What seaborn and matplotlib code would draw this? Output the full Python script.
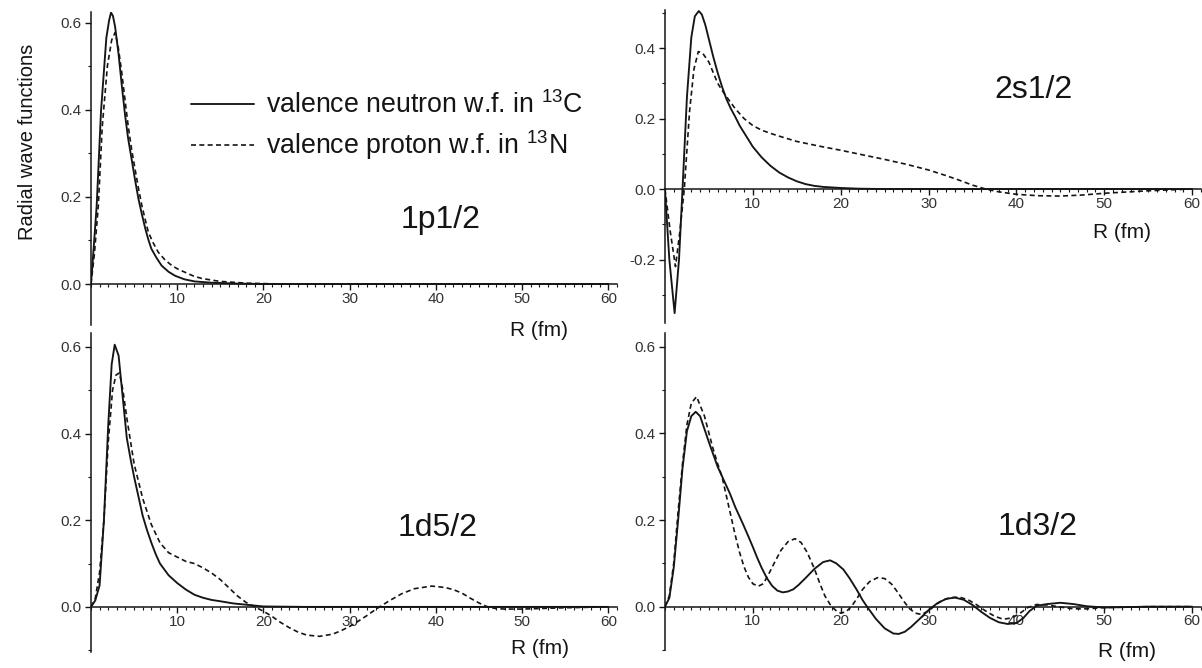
import matplotlib
matplotlib.use("Agg")
import seaborn as sns
import matplotlib.pyplot as plt
from matplotlib.lines import Line2D
from matplotlib.ticker import MultipleLocator, FixedLocator

# ---- data (R in fm, radial wave functions) ----
# 1p1/2
r_1p_n = [0, 0.3, 0.66, 1.16, 1.78, 2.1, 2.32, 2.55, 2.8, 3.2, 3.55, 3.95, 4.3, 4.7, 5.1, 5.5, 5.9, 6.3, 6.65, 7.0,
          7.6, 8.2, 9.0, 9.75, 10.8, 12, 14, 17, 20, 30, 40, 50, 60]
v_1p_n = [0, 0.08, 0.18, 0.396, 0.565, 0.605, 0.623, 0.615, 0.59, 0.527, 0.46, 0.388, 0.335, 0.288, 0.24, 0.196, 0.16, 0.127, 0.102, 0.081,
          0.06, 0.042, 0.028, 0.019, 0.011, 0.006, 0.003, 0.001, 0, 0, 0, 0, 0]
r_1p_p = [0, 0.4, 0.85, 1.3, 1.9, 2.4, 2.8, 3.15, 3.55, 3.9, 4.3, 4.7, 5.1, 5.5, 5.9, 6.3, 6.65, 7.2, 7.8, 8.6, 9.4,
          10.1, 10.9, 11.8, 12.8, 14, 15, 18, 21, 30, 40, 50, 60]
v_1p_p = [0, 0.07, 0.18, 0.36, 0.5, 0.56, 0.577, 0.545, 0.488, 0.43, 0.365, 0.31, 0.265, 0.22, 0.18, 0.147, 0.119, 0.095, 0.073, 0.055, 0.042,
          0.034, 0.027, 0.019, 0.013, 0.009, 0.006, 0.002, 0.0005, 0, 0, 0, 0]

# 2s1/2
r_2s_n = [0, 0.5, 1.1, 1.6, 2.0, 2.5, 3.0, 3.4, 3.85, 4.2, 4.6, 5, 5.5, 6, 6.5, 7, 7.5, 8, 8.5, 9, 9.5, 10, 11, 12, 13, 14,
          15, 16, 17, 18, 20, 22, 25, 30, 40, 50, 60]
v_2s_n = [0, -0.2, -0.352, -0.2, 0, 0.26, 0.43, 0.49, 0.505, 0.495, 0.465, 0.425, 0.375, 0.33, 0.29, 0.255, 0.228, 0.205, 0.18, 0.16, 0.14, 0.12, 0.09, 0.066, 0.047, 0.033,
          0.022, 0.014, 0.009, 0.006, 0.003, 0.001, 0, 0, 0, 0, 0]
r_2s_p = [0, 0.6, 1.2, 1.7, 2.2, 2.8, 3.3, 3.8, 4.3, 5, 5.5, 6, 6.5, 7, 8, 9, 10, 11, 12, 13, 15, 17.5, 20, 22.5, 25,
          27.5, 30, 32, 33.5, 35, 36.5, 38, 40, 42.5, 45, 47.5, 50, 55, 60]
v_2s_p = [0, -0.12, -0.22, -0.12, 0, 0.22, 0.34, 0.39, 0.385, 0.36, 0.33, 0.30, 0.28, 0.262, 0.228, 0.2, 0.18, 0.167, 0.158, 0.15, 0.135, 0.122, 0.11, 0.097, 0.084,
          0.07, 0.054, 0.038, 0.025, 0.011, 0, -0.008, -0.015, -0.019, -0.02, -0.017, -0.012, -0.005, 0]

# 1d5/2
r_5d_n = [0, 0.5, 1, 1.5, 2, 2.4, 2.75, 3.2, 3.6, 4.15, 4.6, 5, 5.5, 6, 6.5, 7, 7.5, 8, 9, 10, 11, 12, 13, 14, 15, 16.5,
          18, 20, 25, 30, 40, 50, 60]
v_5d_n = [0, 0.015, 0.05, 0.2, 0.42, 0.56, 0.605, 0.58, 0.5, 0.39, 0.34, 0.30, 0.255, 0.21, 0.177, 0.148, 0.122, 0.10, 0.073, 0.055, 0.04, 0.028, 0.021, 0.016, 0.013, 0.008,
          0.005, 0.001, 0, 0, 0, 0, 0]
r_5d_p = [0, 0.5, 1, 1.5, 2, 2.5, 2.9, 3.3, 3.7, 4.2, 5, 6, 7, 8, 9, 10, 11, 12, 13, 14, 15, 16, 17, 18, 19, 20,
          21, 22, 23, 24, 25, 26.5, 28, 29, 30, 31, 32, 33, 34.5, 36, 37.5, 39.5, 41, 42, 43, 44, 45, 46, 47, 48, 50, 55, 60]
v_5d_p = [0, 0.02, 0.08, 0.2, 0.38, 0.5, 0.535, 0.54, 0.5, 0.43, 0.33, 0.25, 0.19, 0.148, 0.125, 0.115, 0.105, 0.1, 0.09, 0.078, 0.063, 0.044, 0.025, 0.01, 0.0, -0.01,
          -0.022, -0.036, -0.048, -0.058, -0.065, -0.068, -0.063, -0.055, -0.045, -0.033, -0.02, -0.006, 0.013, 0.03, 0.042, 0.048, 0.045, 0.04, 0.032, 0.02, 0.009, 0, -0.004, -0.005, -0.005, -0.002, 0]

# 1d3/2
r_3d_n = [0, 0.5, 1, 1.5, 2, 2.5, 3, 3.5, 4, 5, 6, 7.4, 8, 8.9, 9.5, 10, 10.5, 11, 11.6, 12.2, 12.8, 13.4, 14, 14.6, 15.2, 16, 17, 18, 18.8,
          19.5, 20.3, 21, 21.8, 22.5, 23, 24, 25, 26, 26.6, 27.3, 28, 29, 30, 31, 32, 33, 34, 35, 36, 37, 38, 39, 40, 40.8,
          41.5, 42.3, 43.5, 45, 46.5, 48, 50, 55, 60]
v_3d_n = [0, 0.02, 0.09, 0.2, 0.32, 0.405, 0.44, 0.45, 0.44, 0.38, 0.323, 0.261, 0.23, 0.19, 0.162, 0.138, 0.113, 0.09, 0.066, 0.048, 0.037, 0.033, 0.035, 0.04, 0.05, 0.066, 0.087, 0.103, 0.107,
          0.1, 0.086, 0.066, 0.04, 0.015, 0, -0.028, -0.05, -0.062, -0.063, -0.058, -0.047, -0.028, -0.008, 0.008, 0.018, 0.021, 0.016, 0.004, -0.012, -0.026, -0.036, -0.04, -0.038, -0.026,
          -0.01, 0.002, 0.006, 0.009, 0.006, 0.001, -0.002, 0, 0]
r_3d_p = [0, 0.5, 1, 1.5, 2, 2.5, 3, 3.6, 4.5, 5.4, 6, 6.5, 7, 7.5, 8, 8.5, 9, 9.5, 10, 10.6, 11.2, 11.8, 12.5, 13.2, 14, 14.8,
          15.5, 16.2, 17, 17.6, 18.2, 18.8, 19.4, 20, 20.6, 21.2, 21.8, 22.5, 23.3, 24.2, 25, 25.8, 26.5, 27.2, 27.8, 28.5, 29.2,
          30, 30.8, 31.6, 32.5, 33.5, 34.5, 35.5, 36.5, 37.5, 38.5, 39.5, 40.5, 41.3, 42.3, 43.5, 45, 46.5, 48, 50, 55, 60]
v_3d_p = [0, 0.025, 0.1, 0.22, 0.33, 0.42, 0.47, 0.485, 0.44, 0.37, 0.33, 0.30, 0.255, 0.21, 0.165, 0.125, 0.092, 0.068, 0.053, 0.047, 0.053, 0.075, 0.103, 0.13, 0.15, 0.157,
          0.148, 0.125, 0.088, 0.055, 0.025, 0.005, -0.008, -0.015, -0.012, 0.0, 0.017, 0.04, 0.058, 0.067, 0.065, 0.052, 0.033, 0.012, -0.004, -0.015, -0.018,
          -0.01, 0.004, 0.015, 0.021, 0.022, 0.016, 0.004, -0.01, -0.022, -0.029, -0.026, -0.014, -0.002, 0.005, 0.004, -0.001, -0.005, -0.005, -0.002, 0, 0]

states = ["1p1/2", "2s1/2", "1d5/2", "1d3/2"]
neutron = {"1p1/2": (r_1p_n, v_1p_n), "2s1/2": (r_2s_n, v_2s_n), "1d5/2": (r_5d_n, v_5d_n), "1d3/2": (r_3d_n, v_3d_n)}
proton = {"1p1/2": (r_1p_p, v_1p_p), "2s1/2": (r_2s_p, v_2s_p), "1d5/2": (r_5d_p, v_5d_p), "1d3/2": (r_3d_p, v_3d_p)}
labels = ["valence neutron w.f. in $^{13}$C", "valence proton w.f. in $^{13}$N"]

sns.set_style("ticks")
plt.rcParams["font.family"] = ["Liberation Sans", "DejaVu Sans"]
plt.rcParams["mathtext.fontset"] = "custom"
plt.rcParams["mathtext.rm"] = "Liberation Sans"
plt.rcParams["mathtext.default"] = "rm"

ink = "#151515"
fig = plt.figure(figsize=(12.02, 6.68), dpi=100)

# axes boxes (fig fraction) and y ranges per panel
boxes = {
    "1p1/2": [0.0757, 0.5135, 0.4376, 0.469],
    "2s1/2": [0.5532, 0.5165, 0.4459, 0.4686],
    "1d5/2": [0.0757, 0.024, 0.4376, 0.4775],
    "1d3/2": [0.5532, 0.027, 0.4459, 0.4745],
}
ylims = {"1p1/2": (-0.094, 0.625), "2s1/2": (-0.38, 0.508), "1d5/2": (-0.104, 0.632), "1d3/2": (-0.1, 0.632)}
yticks = {"1p1/2": [0, 0.2, 0.4, 0.6], "2s1/2": [-0.2, 0, 0.2, 0.4], "1d5/2": [0, 0.2, 0.4, 0.6], "1d3/2": [0, 0.2, 0.4, 0.6]}
tag_pos = {"1p1/2": (40.6, 0.147), "2s1/2": (41.9, 0.281), "1d5/2": (40.2, 0.182), "1d3/2": (42.4, 0.185)}
rfm_pos = {"1p1/2": (51.9, -0.106), "2s1/2": (52.0, -0.122), "1d5/2": (52.1, -0.095), "1d3/2": (52.6, -0.104)}

for st in states:
    ax = fig.add_axes(boxes[st])
    rn, vn = neutron[st]
    rp, vp = proton[st]
    sns.lineplot(x=rn, y=vn, ax=ax, color=ink, lw=1.35, estimator=None)
    sns.lineplot(x=rp, y=vp, ax=ax, color=ink, lw=1.2, linestyle=(0, (3, 2)), estimator=None)

    ax.set_xlim(0, 61)
    ax.set_ylim(*ylims[st])
    ax.spines["top"].set_visible(False)
    ax.spines["right"].set_visible(False)
    ax.spines["bottom"].set_position(("data", 0))
    for sp in ("left", "bottom"):
        ax.spines[sp].set_linewidth(1.1)
        ax.spines[sp].set_color(ink)
    ax.xaxis.set_major_locator(FixedLocator([10, 20, 30, 40, 50, 60]))
    ax.xaxis.set_minor_locator(MultipleLocator(1))
    ax.yaxis.set_major_locator(FixedLocator(yticks[st]))
    ax.yaxis.set_minor_locator(MultipleLocator(0.1))
    ax.set_xticklabels(["10", "20", "30", "40", "50", "60"])
    ax.set_yticklabels([f"{t:.1f}" for t in yticks[st]])
    ax.tick_params(axis="both", which="major", direction="out", length=4, width=1, color=ink,
                   labelsize=11, labelcolor="#333333")
    ax.tick_params(axis="x", which="major", pad=1.5)
    ax.tick_params(axis="y", which="major", pad=3)
    ax.tick_params(axis="both", which="minor", direction="out", length=2.5, width=0.8, color=ink)
    ax.set_xlabel("")
    ax.set_ylabel("")
    ax.patch.set_alpha(0)

    ax.text(*tag_pos[st], st, fontsize=23, color=ink, ha="center", va="center")
    ax.text(*rfm_pos[st], "R (fm)", fontsize=15, color=ink, ha="center", va="center", clip_on=False)

    if st == "1p1/2":
        handles = [Line2D([], [], color=ink, lw=1.35),
                   Line2D([], [], color=ink, lw=1.2, linestyle=(0, (3, 2)))]
        ax.legend(handles, labels, loc="center left", bbox_to_anchor=(191 / 1202, 1 - 127 / 668),
                  bbox_transform=fig.transFigure, frameon=False, fontsize=19.3, handlelength=2.35,
                  handletextpad=0.45, labelspacing=0.35, borderpad=0, borderaxespad=0,
                  labelcolor=ink)

fig.text(28 / 1202, 1 - 142 / 668, "Radial wave functions", rotation=90, ha="center", va="center",
         fontsize=14.5, color=ink)

fig.savefig("out.png", dpi=100)
